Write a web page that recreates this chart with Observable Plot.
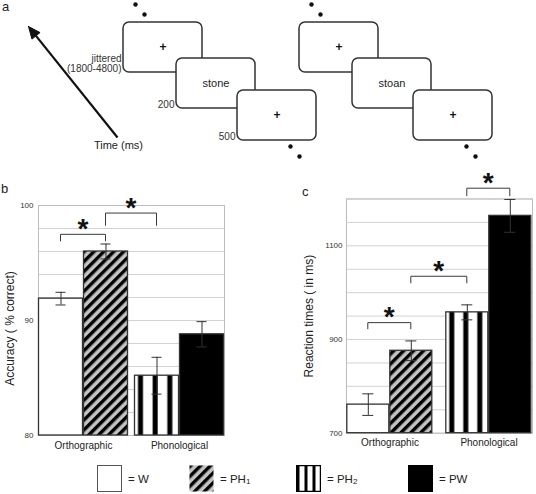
<!DOCTYPE html>
<html>
<head>
<meta charset="utf-8">
<script src="https://cdn.jsdelivr.net/npm/d3@7"></script>
<script src="https://cdn.jsdelivr.net/npm/@observablehq/plot@0.6"></script>
<style>
  html, body { margin: 0; padding: 0; background: #fff; }
  #fig { position: relative; width: 536px; height: 494px; overflow: hidden;
         font-family: "Liberation Sans", Arial, sans-serif; color: #222; background: #fff; }
  #fig > .abs { position: absolute; }
  .letter { font-size: 13px; line-height: 13px; }
  .legend-item { display: flex; align-items: center; height: 27px; font-size: 11.5px; }
  .legend-item svg { display: block; margin-right: 6px; }
  .legend-item sub { font-size: 8px; vertical-align: baseline; position: relative; top: 1px; }
</style>
</head>
<body>
<svg width="0" height="0" style="position:absolute">
  <defs>
    <pattern id="diag" patternUnits="userSpaceOnUse" width="7" height="7" patternTransform="rotate(45)">
      <rect width="7" height="7" fill="#c4c4c4"></rect>
      <rect width="3.4" height="7" fill="#000"></rect>
    </pattern>
    <pattern id="vert" patternUnits="objectBoundingBox" x="0" y="0" width="0.3333" height="1" patternContentUnits="userSpaceOnUse">
      <rect width="40" height="800" fill="#fff"></rect>
      <rect x="3.5" width="5" height="800" fill="#000"></rect>
    </pattern>
    <pattern id="vertLegend" patternUnits="objectBoundingBox" x="0" y="0" width="0.3333" height="1" patternContentUnits="userSpaceOnUse">
      <rect width="40" height="800" fill="#fff"></rect>
      <rect x="0" width="3" height="800" fill="#000"></rect>
    </pattern>
  </defs>
</svg>
<div id="fig"></div>
<script>
// ---------------- data ----------------
const groups = ["Orthographic", "Phonological"];
const conditions = ["W", "PH1", "PH2", "PW"];
const conditionGroup = ["Orthographic", "Orthographic", "Phonological", "Phonological"];

const accuracy = [91.9, 96.0, 85.2, 88.8];
const accuracyErr = [0.55, 0.65, 1.6, 1.1];
const accuracyDomain = [80, 100];
const accuracyTicks = [80, 90, 100];
const accuracyLabel = "Accuracy ( % correct)";
const accuracyBracketFrom = ["W", "PH1"];
const accuracyBracketTo = ["PH1", "PH2"];
const accuracyBracketLevel = [97.45, 99.3];
const accuracyBracketEnd = [96.85, 98.2];

const reactionTime = [761, 876, 958, 1164];
const reactionTimeErr = [23, 21, 16, 35];
const reactionDomain = [700, 1200];
const reactionTicks = [700, 900, 1100];
const reactionLabel = "Reaction times ( in ms)";
const rtBracketFrom = ["W", "PH1", "PH2"];
const rtBracketTo = ["PH1", "PH2", "PW"];
const rtBracketLevel = [935, 1034, 1222];
const rtBracketEnd = [921, 1019, 1205];

const trialWords = ["stone", "stoan"];
const durationLabels = ["jittered\n(1800-4800)", "200", "500"];
const timeAxisLabel = "Time (ms)";
const panelLetters = ["a", "b", "c"];

// ---------------- styles ----------------
const FONT = "Liberation Sans, Arial, sans-serif";
const fills = {W: "white", PH1: "url(#diag)", PH2: "url(#vert)", PW: "black"};
const legendFills = {W: "white", PH1: "url(#diag)", PH2: "url(#vertLegend)", PW: "black"};
const fig = d3.select("#fig");

function place(node, left, top) {
  node.classList.add("abs");
  node.style.left = left + "px";
  node.style.top = top + "px";
  fig.node().appendChild(node);
}

// ---------------- panel a: trial schematic ----------------
(function () {
  const box = {w: 79, h: 50};
  const trialLeft = [123, 299], top = 22;
  const screenOffset = [[0, 0], [53, 36], [114, 68]];
  const screens = trialWords.flatMap((w, t) =>
    ["+", w, "+"].map((label, k) => ({t, k, label,
      x: trialLeft[t] + screenOffset[k][0], y: top + screenOffset[k][1]})));
  const first = screens.filter(s => s.t === 0);
  const dots = trialWords.flatMap((w, t) => {
    const a = screens.find(s => s.t === t && s.k === 0);
    const c = screens.find(s => s.t === t && s.k === 2);
    return [{x: a.x + 12, y: a.y - 18}, {x: a.x + 21, y: a.y - 8},
            {x: c.x + 53, y: c.y + 56}, {x: c.x + 62, y: c.y + 66}];
  });
  const tail = {x: 117, y: 137}, tip = {x: 28, y: 26};
  const L = Math.hypot(tip.x - tail.x, tip.y - tail.y);
  const ux = (tip.x - tail.x) / L, uy = (tip.y - tail.y) / L;
  const headLen = 12, headHalf = 5.2;
  const base = {x: tip.x - ux * headLen, y: tip.y - uy * headLen};
  const head = [tip, {x: base.x - uy * headHalf, y: base.y + ux * headHalf},
                {x: base.x + uy * headHalf, y: base.y - ux * headHalf}, tip];

  const chart = Plot.plot({
    width: 536, height: 165, margin: 0,
    x: {type: "identity", axis: null}, y: {type: "identity", axis: null},
    style: {fontFamily: FONT, fontSize: "10px", color: "#222", background: "transparent", overflow: "visible"},
    marks: [
      Plot.rect(screens, {x1: "x", x2: d => d.x + box.w, y1: "y", y2: d => d.y + box.h,
        rx: 6, fill: "white", stroke: "#333", strokeWidth: 1.5}),
      Plot.text(screens.filter(s => s.k === 1), {x: d => d.x + box.w / 2, y: d => d.y + box.h / 2,
        text: "label", fontSize: 11, fill: "#222"}),
      Plot.text(screens.filter(s => s.k !== 1), {x: d => d.x + box.w / 2, y: d => d.y + box.h / 2,
        text: "label", fontSize: 12, fontWeight: "bold", fill: "#111"}),
      Plot.text(first, {x: d => d.x - 2, y: d => d.y + box.h - 1, text: d => durationLabels[d.k],
        textAnchor: "end", lineAnchor: "bottom", fontSize: 10, fill: "#333"}),
      Plot.dot(dots, {x: "x", y: "y", r: 2.2, fill: "#111", stroke: null}),
      Plot.link([{x1: tail.x, y1: tail.y, x2: base.x, y2: base.y}],
        {x1: "x1", y1: "y1", x2: "x2", y2: "y2", stroke: "#111", strokeWidth: 2.2}),
      Plot.line(head, {x: "x", y: "y", fill: "#111", stroke: "#111", strokeWidth: 1}),
      Plot.text([timeAxisLabel], {x: tail.x + 1, y: tail.y + 8, text: d => d, fontSize: 11, fill: "#222"})
    ]
  });
  place(chart, 0, 0);
})();

// ---------------- panels b and c: grouped bars ----------------
function barPanel(o) {
  const rows = conditions.map((c, i) => ({
    condition: c, group: conditionGroup[i],
    slot: String(conditions.filter((d, j) => conditionGroup[j] === conditionGroup[i]).indexOf(c)),
    value: o.values[i], err: o.errors[i]
  }));
  const find = c => rows.find(r => r.condition === c);
  const brackets = o.bFrom.map((f, i) => ({
    fromGroup: find(f).group, fromSlot: find(f).slot,
    toGroup: find(o.bTo[i]).group, toSlot: find(o.bTo[i]).slot,
    level: o.bLevel[i], end: o.bEnd[i]
  }));
  const frameW = o.width - o.margin.left - o.margin.right;
  const step = frameW / (groups.length - o.padInner);
  const groupW = step * (1 - o.padInner);
  const barW = groupW / 2;
  const capInset = (barW - o.cap) / 2;

  return Plot.plot({
    width: o.width, height: o.height,
    marginLeft: o.margin.left, marginRight: o.margin.right,
    marginTop: o.margin.top, marginBottom: o.margin.bottom,
    style: {fontFamily: FONT, fontSize: "10px", color: "#222", background: "transparent", overflow: "visible"},
    fx: {domain: groups, paddingInner: o.padInner, paddingOuter: 0},
    x: {domain: ["0", "1"], padding: 0, axis: null},
    y: {domain: o.domain},
    color: {type: "identity"},
    marks: [
      // horizontal grid, drawn once from the first group across the whole frame
      Plot.ruleY(d3.ticks(o.domain[0], o.domain[1], 10), {fx: () => groups[0],
        insetRight: -(frameW - groupW), stroke: "#d2d2d2"}),
      Plot.frame({facet: "super", stroke: "#bdbdbd"}),
      Plot.barY(rows, {fx: "group", x: "slot", y1: o.domain[0], y2: "value",
        fill: d => fills[d.condition], stroke: "#333", strokeWidth: 1.3, insetLeft: 0.5, insetRight: 0.5}),
      Plot.ruleX(rows, {fx: "group", x: "slot", y1: d => d.value - d.err, y2: d => d.value + d.err,
        stroke: "#333", strokeWidth: 1}),
      Plot.tickY(rows, {fx: "group", x: "slot", y: d => d.value + d.err,
        insetLeft: capInset, insetRight: capInset, stroke: "#333", strokeWidth: 1}),
      Plot.tickY(rows, {fx: "group", x: "slot", y: d => d.value - d.err,
        insetLeft: capInset, insetRight: capInset, stroke: "#333", strokeWidth: 1}),
      Plot.link(brackets, {
        fx: "fromGroup", x1: "fromSlot", x2: "fromSlot", y1: "level", y2: "level",
        render(index, scales) {
          const {x, y, fx} = scales;
          const half = x.bandwidth() / 2;
          const g = d3.create("svg:g");
          for (const i of index) {
            const b = brackets[i];
            const xa = x(b.fromSlot) + half;
            const xb = fx(b.toGroup) - fx(b.fromGroup) + x(b.toSlot) + half;
            const yl = y(b.level), ye = y(b.end);
            g.append("path").attr("d", `M${xa},${ye}V${yl}H${xb}V${ye}`)
              .attr("fill", "none").attr("stroke", "#3a3a3a").attr("stroke-width", 1);
            g.append("text").attr("x", (xa + xb) / 2).attr("y", yl + 3.5)
              .attr("text-anchor", "middle").attr("font-size", 28).attr("font-weight", "bold")
              .attr("fill", "#111").text("*");
          }
          return g.node();
        }
      }),
      Plot.axisY({ticks: o.ticks, tickFormat: d => String(d), tickSize: 0, tickPadding: o.tickPad,
        fontSize: 8, label: null, fill: "#333"}),
      Plot.axisFx({anchor: "bottom", tickSize: 0, tickPadding: o.fxPad, fontSize: 10, label: null, fill: "#222"}),
      Plot.text([o.label], {facet: "super", frameAnchor: "left", textAnchor: "middle", lineAnchor: "middle",
        rotate: -90, dx: o.labelDx, dy: o.labelDy, text: d => d, fontSize: 12, fill: "#222"})
    ]
  });
}

place(barPanel({
  values: accuracy, errors: accuracyErr, domain: accuracyDomain, ticks: accuracyTicks, label: accuracyLabel,
  bFrom: accuracyBracketFrom, bTo: accuracyBracketTo, bLevel: accuracyBracketLevel, bEnd: accuracyBracketEnd,
  width: 270, height: 295, margin: {left: 38, right: 46, top: 40, bottom: 25},
  padInner: 0.0625, cap: 10, tickPad: 5, fxPad: 6, labelDx: -28, labelDy: 8
}), 0, 165);

place(barPanel({
  values: reactionTime, errors: reactionTimeErr, domain: reactionDomain, ticks: reactionTicks, label: reactionLabel,
  bFrom: rtBracketFrom, bTo: rtBracketTo, bLevel: rtBracketLevel, bEnd: rtBracketEnd,
  width: 266, height: 295, margin: {left: 75.7, right: 2.7, top: 33.5, bottom: 27.3},
  padInner: 0.1165, cap: 12, tickPad: 4, fxPad: 6, labelDx: -37.4, labelDy: 0
}), 270, 165);

// ---------------- panel letters ----------------
[[2, 0], [1, 182], [302, 185]].forEach(([l, t], i) => {
  const d = document.createElement("div");
  d.className = "letter";
  d.textContent = panelLetters[i];
  place(d, l, t);
});

// ---------------- legend ----------------
const legendLeft = [97, 189, 296, 408];
conditions.forEach((c, i) => {
  const item = document.createElement("div");
  item.className = "legend-item";
  const s = d3.create("svg").attr("width", 25).attr("height", 27);
  s.append("rect").attr("x", 0.5).attr("y", 0.5).attr("width", 24).attr("height", 26)
    .attr("fill", legendFills[c])
    .attr("stroke", c === "PH1" ? "none" : (c === "W" ? "#555" : "#000"))
    .attr("stroke-width", c === "PH2" ? 1.5 : 1);
  item.appendChild(s.node());
  const t = document.createElement("span");
  const m = c.match(/^(.*?)(\d)$/);
  t.innerHTML = "= " + (m ? `${m[1]}<sub>${m[2]}</sub>` : c);
  item.appendChild(t);
  place(item, legendLeft[i], 465);
});
</script>
</body>
</html>
